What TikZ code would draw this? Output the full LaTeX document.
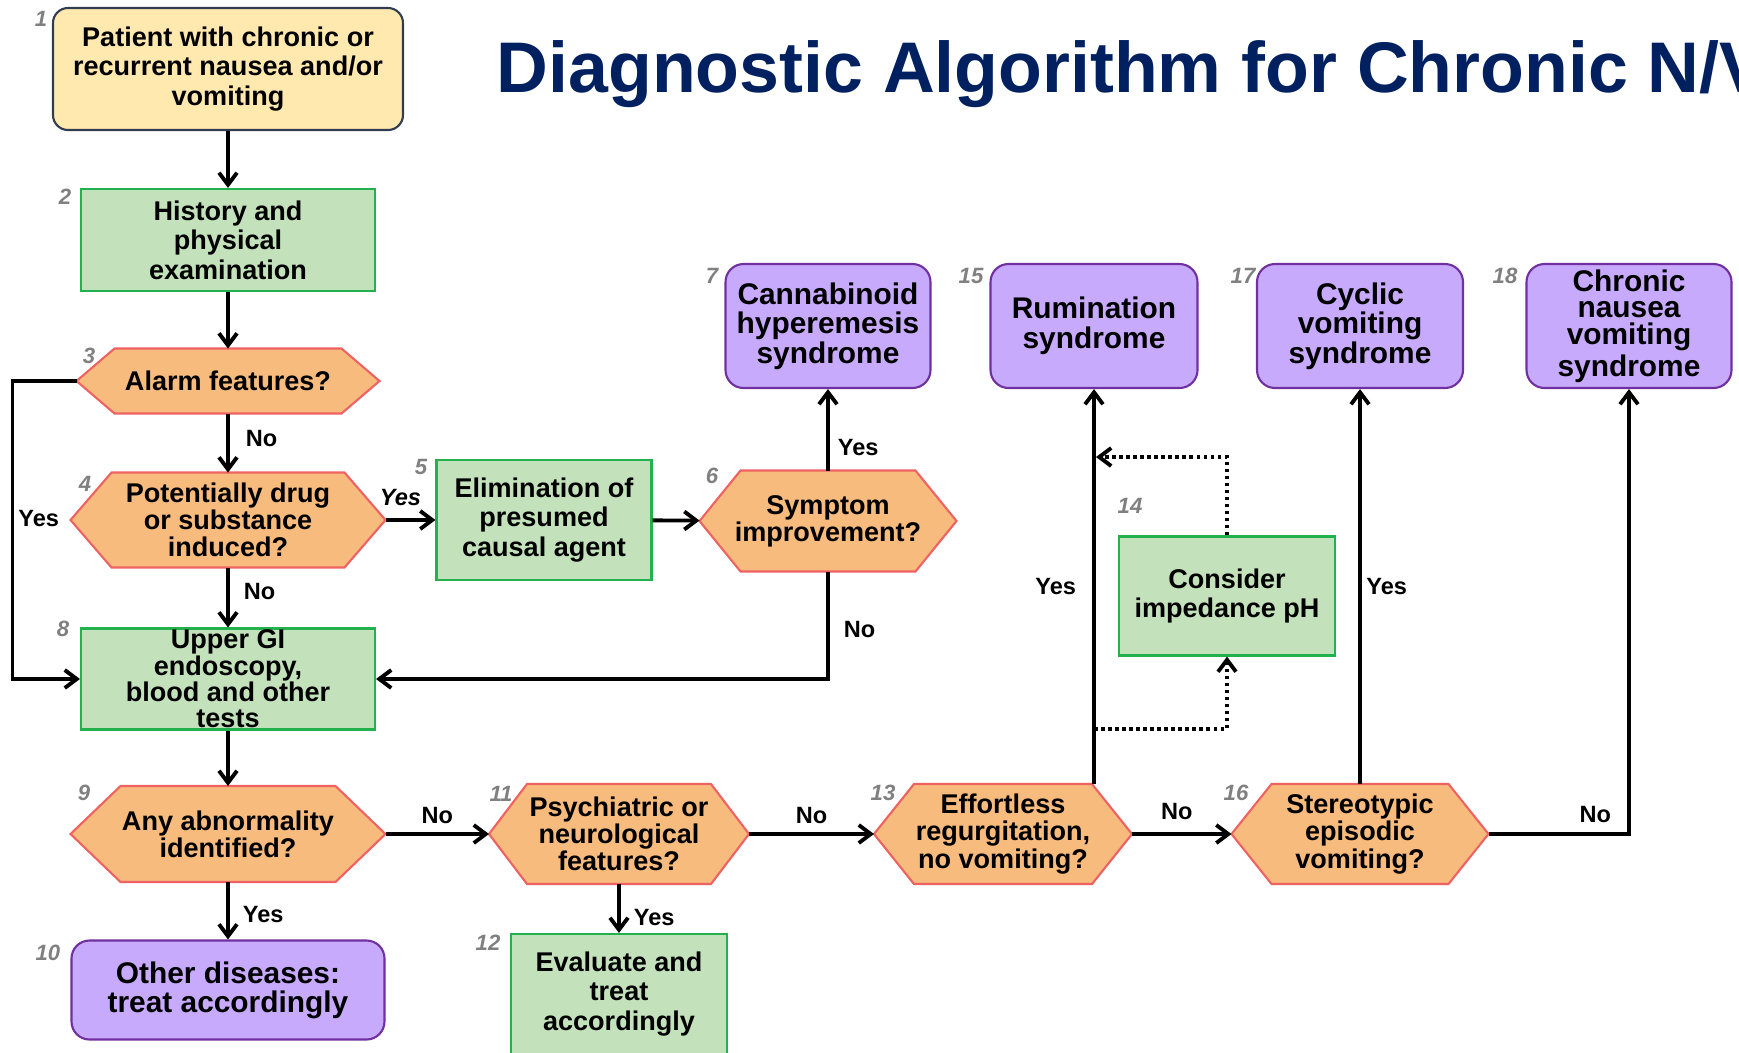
\documentclass[tikz,border=0pt]{standalone}
\usepackage{fontspec}
\setmainfont{Liberation Sans}
\usetikzlibrary{arrows.meta}

\definecolor{titulo}{HTML}{002060}
\definecolor{amarillo}{HTML}{FFE9AF}
\definecolor{bordeamarillo}{HTML}{323C50}
\definecolor{verde}{HTML}{C3E2BC}
\definecolor{bordeverde}{HTML}{22B14C}
\definecolor{naranja}{HTML}{F7BB7D}
\definecolor{bordenaranja}{HTML}{EE6262}
\definecolor{morado}{HTML}{C7AAFC}
\definecolor{bordemorado}{HTML}{7030A0}
\definecolor{gris}{HTML}{808080}

\tikzset{
  caja/.style={rectangle, draw=bordeverde, fill=verde, line width=0.6pt, align=center,
    inner sep=0pt, font=\bfseries\fontsize{7.7}{8.4}\selectfont},
  inicio/.style={caja, rounded corners=1.5mm, draw=bordeamarillo, fill=amarillo},
  final/.style={caja, rounded corners=1.8mm, draw=bordemorado, fill=morado,
    font=\bfseries\fontsize{8.5}{8.4}\selectfont},
  pregunta/.style={rectangle, align=center, inner sep=0pt, outer sep=0pt,
    font=\bfseries\fontsize{7.7}{7.7}\selectfont},
  flecha/.style={line width=1.1pt, -{Straight Barb[length=1.2mm,width=1.8mm]}},
  punteada/.style={flecha, line width=1.1pt, dash pattern=on 1pt off 1pt},
  etiqueta/.style={inner sep=0pt, font=\bfseries\fontsize{6.7}{6.7}\selectfont},
  numero/.style={inner sep=0pt, text=gris, font=\bfseries\itshape\fontsize{6.3}{6.3}\selectfont}
}

% hexágono: nombre, x, y, ancho, alto, bisel, texto
\newcommand{\hexagono}[7]{%
  \node[pregunta, minimum width=#4, minimum height=#5] (#1) at (#2,#3) {};
  \filldraw[fill=naranja, draw=bordenaranja, line width=0.6pt]
    (#1.west) -- ([xshift=#6]#1.north west) -- ([xshift=-#6]#1.north east)
    -- (#1.east) -- ([xshift=-#6]#1.south east) -- ([xshift=#6]#1.south west) -- cycle;
  \node[pregunta] (#1t) at (#1.center) {#7};
}

\begin{document}
\begin{tikzpicture}[x=0.1mm, y=-0.1mm]
    \useasboundingbox (0,0) rectangle (1739,1052);
    \clip (0,0) rectangle (1739,1052);

    % Título
    \node[anchor=base west, inner sep=0pt, text=titulo, font=\bfseries\fontsize{20.4}{21}\selectfont]
        (titulo) at (496,92) {Diagnostic Algorithm for Chronic N/V};

    % Cajas
    \node[inicio, minimum width=35mm, minimum height=12.2mm] (n1) at (228,69)
        {Patient with chronic or\\recurrent nausea and/or\\vomiting};
    \node[caja, minimum width=29.4mm, minimum height=10.2mm] (n2) at (228,240)
        {History and\\physical\\examination};
    \node[caja, minimum width=21.5mm, minimum height=12mm] (n5) at (544,520)
        {Elimination of\\presumed\\causal agent};
    \node[caja, minimum width=29.4mm, minimum height=10.1mm, font=\bfseries\fontsize{7.7}{7.5}\selectfont]
        (n8) at (228,679) {Upper GI\\endoscopy,\\blood and other\\tests};
    \node[caja, minimum width=21.6mm, minimum height=12mm] (n12) at (619,994)
        {Evaluate and\\treat\\accordingly};
    \node[caja, minimum width=21.6mm, minimum height=11.9mm] (n14) at (1227,596)
        {Consider\\impedance pH};

    % Diagnósticos finales
    \node[final, minimum width=20.5mm, minimum height=12.4mm] (n7) at (828,326)
        {Cannabinoid\\hyperemesis\\syndrome};
    \node[final, minimum width=31.3mm, minimum height=9.9mm, font=\bfseries\fontsize{8.5}{8.2}\selectfont]
        (n10) at (228,990) {Other diseases:\\treat accordingly};
    \node[final, minimum width=20.7mm, minimum height=12.4mm] (n15) at (1094,326)
        {Rumination\\syndrome};
    \node[final, minimum width=20.6mm, minimum height=12.4mm] (n17) at (1360,326)
        {Cyclic\\vomiting\\syndrome};
    \node[final, minimum width=20.5mm, minimum height=12.4mm, font=\bfseries\fontsize{8.5}{7.6}\selectfont]
        (n18) at (1629,326) {Chronic\\nausea\\vomiting\\syndrome};

    % Preguntas
    \hexagono{n3}{228}{381}{30.3mm}{6.5mm}{3.8mm}{Alarm features?}
    \hexagono{n4}{228}{520}{31.5mm}{9.5mm}{4.1mm}{Potentially drug\\or substance\\induced?}
    \hexagono{n6}{828}{521}{25.7mm}{10.1mm}{4.1mm}{Symptom\\improvement?}
    \hexagono{n9}{228}{834}{31.5mm}{9.6mm}{5mm}{Any abnormality\\identified?}
    \hexagono{n11}{619}{834}{26mm}{10mm}{3.8mm}{Psychiatric or\\neurological\\features?}
    \hexagono{n13}{1003}{834}{25.8mm}{10mm}{4mm}{Effortless\\regurgitation,\\no vomiting?}
    \hexagono{n16}{1360}{834}{25.7mm}{10mm}{4mm}{Stereotypic\\episodic\\vomiting?}

    % Conectores
    \draw[flecha] (n1) -- (n2);
    \draw[flecha] (n2) -- (n3);
    \draw[flecha] (n3) -- node[etiqueta, right=1.6mm, pos=0.43] {No} (n4);
    \draw[flecha] (n3.west) -- ++(-64,0) |- node[etiqueta, right=0.4mm, pos=0.23] {Yes} (n8.west);
    \draw[flecha] (n4) -- node[etiqueta, above=1.2mm, pos=0.3, font=\bfseries\itshape\fontsize{6.7}{6.7}\selectfont] {Yes} (n5);
    \draw[flecha] (n4) -- node[etiqueta, right=1.4mm, pos=0.4] {No} (n8);
    \draw[flecha] (n5) -- (n6);
    \draw[flecha] (n6) -- node[etiqueta, right=0.8mm, pos=0.28] {Yes} (n7);
    \draw[flecha] (n6.south) |- node[etiqueta, right=1.4mm, pos=0.27] {No} (n8.east);
    \draw[flecha] (n8) -- (n9);
    \draw[flecha] (n9) -- node[etiqueta, above=0.8mm] {No} (n11);
    \draw[flecha] (n9) -- node[etiqueta, right=1.3mm, pos=0.56] {Yes} (n10);
    \draw[flecha] (n11) -- node[etiqueta, above=0.8mm] {No} (n13);
    \draw[flecha] (n11) -- node[etiqueta, right=1.3mm, pos=0.69] {Yes} (n12);
    \draw[flecha] (n13.north -| n15.south) -- node[etiqueta, left=1.6mm] {Yes} (n15.south);
    \draw[flecha] (n13) -- node[etiqueta, above=1.2mm, pos=0.45] {No} (n16);
    \draw[flecha] (n16) -- node[etiqueta, right=0.45mm] {Yes} (n17);
    \draw[flecha] (n16.east) -| node[etiqueta, above=0.9mm, pos=0.38] {No} (n18.south);

    % Prueba opcional (punteado)
    \coordinate (p1) at (1094,729);
    \coordinate (p2) at (1096,457);
    \draw[punteada] (p1) -| (n14.south);
    \draw[punteada] (n14.north) |- (p2);

    % Números de paso
    \foreach \n/\x/\y in {1/41/19, 2/65/197, 3/89/356, 4/85/484, 5/421/467, 6/712/476,
        7/712/276, 8/63/629, 9/84/793, 10/48/953, 11/501/794, 12/488/943, 13/883/793,
        14/1130/506, 15/971/276, 16/1236/793, 17/1243/276, 18/1505/276}
        \node[numero] (num\n) at (\x,\y) {\n};
\end{tikzpicture}
\end{document}
